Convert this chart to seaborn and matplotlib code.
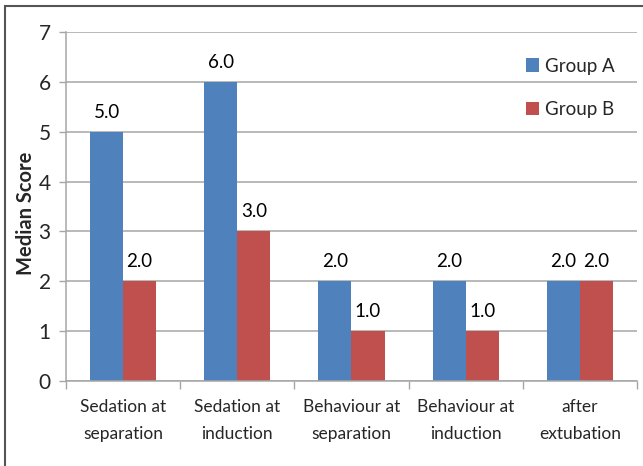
import matplotlib
matplotlib.use("Agg")
import matplotlib.pyplot as plt
from matplotlib.patches import Rectangle
import seaborn as sns
import pandas as pd

categories = ["Sedation at\nseparation", "Sedation at\ninduction",
              "Behaviour at\nseparation", "Behaviour at\ninduction",
              "after\nextubation"]
group_a = [5.0, 6.0, 2.0, 2.0, 2.0]
group_b = [2.0, 3.0, 1.0, 1.0, 2.0]
groups = ["Group A", "Group B"]
colors = ["#4F81BD", "#C0504D"]
y_ticks = [0, 1, 2, 3, 4, 5, 6, 7]

df = pd.DataFrame({
    "Category": categories * 2,
    "Group": [groups[0]] * len(categories) + [groups[1]] * len(categories),
    "Median Score": group_a + group_b,
})

sns.set_theme(style="white")
plt.rcParams["font.family"] = ["Lato", "DejaVu Sans"]

fig = plt.figure(figsize=(6.43, 4.66), dpi=100)
ax = fig.add_axes([0.1026, 0.1824, 0.8881, 0.7489])

sns.barplot(data=df, x="Category", y="Median Score", hue="Group",
            palette=colors, width=0.58, saturation=1, ax=ax,
            edgecolor="none", linewidth=0)

for cont in ax.containers:
    ax.bar_label(cont, fmt="%.1f", padding=8, fontsize=13.5, color="black")

ax.set_ylim(0, 7)
ax.set_xlim(-0.5, len(categories) - 0.5)
ax.set_yticks(y_ticks)
ax.set_yticklabels([str(t) for t in y_ticks], fontsize=15)
ax.yaxis.grid(True, color="#A6A6A6", linewidth=1.1)
ax.set_axisbelow(True)

# category tick marks sit on the boundaries between groups
ax.set_xticks([i - 0.5 for i in range(len(categories) + 1)], minor=True)
ax.tick_params(axis="x", which="minor", length=6, color="#A6A6A6", width=1,
               bottom=True)
ax.tick_params(axis="x", which="major", length=0, pad=13)
ax.tick_params(axis="y", length=5, color="#A6A6A6", width=1, left=True, pad=6)
for lbl in ax.get_xticklabels():
    lbl.set_fontsize(12.5)
    lbl.set_linespacing(1.85)

for side in ["top", "right"]:
    ax.spines[side].set_visible(False)
for side in ["left", "bottom"]:
    ax.spines[side].set_color("#A6A6A6")
    ax.spines[side].set_linewidth(1.1)

ax.set_xlabel("")
ax.set_ylabel("Median Score", fontsize=14.5, fontweight="bold")
ax.yaxis.set_label_coords(-0.052, 0.48)

ax.legend(loc="upper right", bbox_to_anchor=(0.99, 0.975), frameon=False,
          fontsize=13.5, handlelength=0.7, handleheight=0.7, handletextpad=0.3,
          labelspacing=1.4)

# thin frame around the figure
fig.add_artist(Rectangle((5 / 643, -0.5), 2.0, 0.5 + (1 - 6 / 466),
                         transform=fig.transFigure, fill=False,
                         edgecolor="#555555", linewidth=1.5))

fig.savefig("out.png", dpi=100)
